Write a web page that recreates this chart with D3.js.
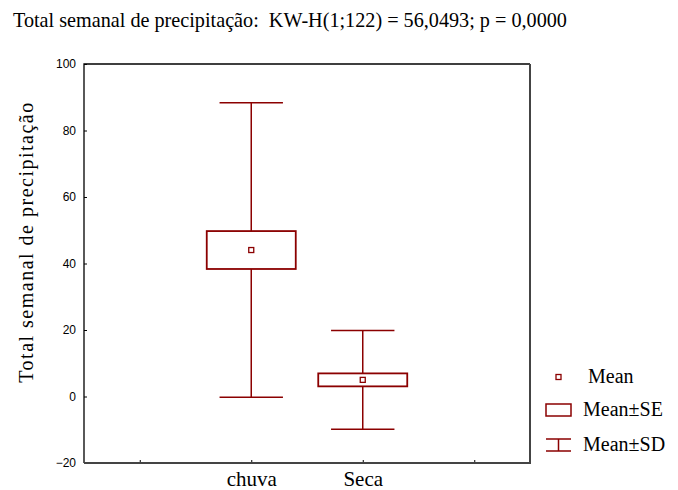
<!DOCTYPE html>
<html>
<head>
<meta charset="utf-8">
<script src="https://cdn.jsdelivr.net/npm/d3@7"></script>
<style>
  body { margin: 0; background: #fff; }
  svg { display: block; }
  .tick text { fill: #000; }
</style>
</head>
<body>
<div class="box-chart"></div>
<script>
// data
const categories = ['chuva', 'Seca'];
const catPos = [1, 2];              // slot of each group on x
const means = [44.05, 5.0];
const seVals = [5.7, 1.95];
const sdVals = [44.3, 14.85];
const yTicks = [-20, 0, 20, 40, 60, 80, 100];
const xTicks = [0, 1, 2, 3];
const xTickLabels = ['', 'chuva', 'Seca', ''];
const legendLabels = ['Mean', 'Mean\u00B1SE', 'Mean\u00B1SD'];

const titleText = 'Total semanal de precipitação:  KW-H(1;122) = 56,0493; p = 0,0000';
const yLabel = 'Total semanal de precipitação';

// svg
const svg_width = 678;
const svg_height = 490;
const margin = {top: 64, right: 148, bottom: 27, left: 84};
const chart_width = svg_width - margin.left - margin.right;
const chart_height = svg_height - margin.top - margin.bottom;
const col = '#8b0000';
const serif = '"Liberation Serif", "Times New Roman", serif';

const svg = d3.select('.box-chart').append('svg')
    .attr('width', svg_width).attr('height', svg_height);

const g = svg.append('g')
    .attr('transform', `translate(${margin.left},${margin.top})`);

// scales
const xScale = d3.scaleLinear([-0.5, 3.5], [0, chart_width]);
const yScale = d3.scaleLinear([-20, 100], [chart_height, 0]);

// title
svg.append('text')
    .attr('x', 13).attr('y', 27)
    .style('font-family', serif).style('font-size', '20.2px')
    .style('white-space', 'pre')
    .attr('xml:space', 'preserve')
    .text(titleText);

// y label
svg.append('text')
    .attr('transform', `translate(33,${margin.top + 178}) rotate(-90)`)
    .attr('text-anchor', 'middle')
    .style('font-family', serif).style('font-size', '20px')
    .style('letter-spacing', '1.5px')
    .text(yLabel);

// axes (ticks point inward)
const yAxis = d3.axisLeft(yScale).tickValues(yTicks)
    .tickSizeInner(-3).tickSizeOuter(0).tickPadding(8);
const yAxisDraw = g.append('g').attr('class', 'y axis').call(yAxis);
yAxisDraw.select('.domain').remove();
yAxisDraw.selectAll('text')
    .style('font-family', '"Liberation Sans", Arial, sans-serif')
    .style('font-size', '12px');
yAxisDraw.selectAll('line').attr('stroke', '#000');

const xAxis = d3.axisBottom(xScale).tickValues(xTicks)
    .tickFormat((d, i) => xTickLabels[i])
    .tickSizeInner(-3).tickSizeOuter(0).tickPadding(8);
const xAxisDraw = g.append('g').attr('class', 'x axis')
    .attr('transform', `translate(0,${chart_height})`).call(xAxis);
xAxisDraw.select('.domain').remove();
xAxisDraw.selectAll('text')
    .style('font-family', serif).style('font-size', '21px');
xAxisDraw.selectAll('line').attr('stroke', '#000');

// frame
g.append('path')
    .attr('d', `M0,${chart_height}V0H${chart_width}`)
    .attr('fill', 'none').attr('stroke', '#000').attr('stroke-width', 1.3);
g.append('path')
    .attr('d', `M0,${chart_height}H${chart_width}V0`)
    .attr('fill', 'none').attr('stroke', '#444').attr('stroke-width', 2);

// box data
const groups = categories.map((c, i) => ({
    name: c, pos: catPos[i], mean: means[i], se: seVals[i], sd: sdVals[i]
}));

const boxHalf = 44.5;
const capHalf = 31.7;
const boxes = g.append('g').attr('class', 'boxes')
    .selectAll('g').data(groups).join('g');

// whisker (mean ± SD)
boxes.append('line')
    .attr('x1', d => xScale(d.pos)).attr('x2', d => xScale(d.pos))
    .attr('y1', d => yScale(d.mean - d.sd)).attr('y2', d => yScale(d.mean + d.sd))
    .attr('stroke', col).attr('stroke-width', 1.5);
boxes.append('line')
    .attr('x1', d => xScale(d.pos) - capHalf).attr('x2', d => xScale(d.pos) + capHalf)
    .attr('y1', d => yScale(d.mean + d.sd)).attr('y2', d => yScale(d.mean + d.sd))
    .attr('stroke', col).attr('stroke-width', 1.5);
boxes.append('line')
    .attr('x1', d => xScale(d.pos) - capHalf).attr('x2', d => xScale(d.pos) + capHalf)
    .attr('y1', d => yScale(d.mean - d.sd)).attr('y2', d => yScale(d.mean - d.sd))
    .attr('stroke', col).attr('stroke-width', 1.5);

// box (mean ± SE)
boxes.append('rect')
    .attr('x', d => xScale(d.pos) - boxHalf)
    .attr('y', d => yScale(d.mean + d.se))
    .attr('width', boxHalf * 2)
    .attr('height', d => yScale(d.mean - d.se) - yScale(d.mean + d.se))
    .attr('fill', '#fff').attr('stroke', col).attr('stroke-width', 1.8);

// mean marker
boxes.append('rect')
    .attr('x', d => xScale(d.pos) - 2.5).attr('y', d => yScale(d.mean) - 2.5)
    .attr('width', 5).attr('height', 5)
    .attr('fill', '#fff').attr('stroke', col).attr('stroke-width', 1.3);

// legend
const legend = svg.append('g').attr('class', 'legend');
const legY = [377, 410, 445];
legend.append('rect')
    .attr('x', 556).attr('y', legY[0] - 2.5).attr('width', 5).attr('height', 5)
    .attr('fill', '#fff').attr('stroke', col).attr('stroke-width', 1.3);
legend.append('rect')
    .attr('x', 546).attr('y', legY[1] - 6).attr('width', 25).attr('height', 12)
    .attr('fill', '#fff').attr('stroke', col).attr('stroke-width', 1.5);
legend.append('path')
    .attr('d', `M546,${legY[2] - 6}H571M558.5,${legY[2] - 6}V${legY[2] + 6}M546,${legY[2] + 6}H571`)
    .attr('fill', 'none').attr('stroke', col).attr('stroke-width', 1.5);
legend.selectAll('text').data(legendLabels).join('text')
    .attr('x', (d, i) => i === 0 ? 588 : 583)
    .attr('y', (d, i) => legY[i] + 6)
    .style('font-family', serif).style('font-size', '20px')
    .text(d => d);
</script>
</body>
</html>
